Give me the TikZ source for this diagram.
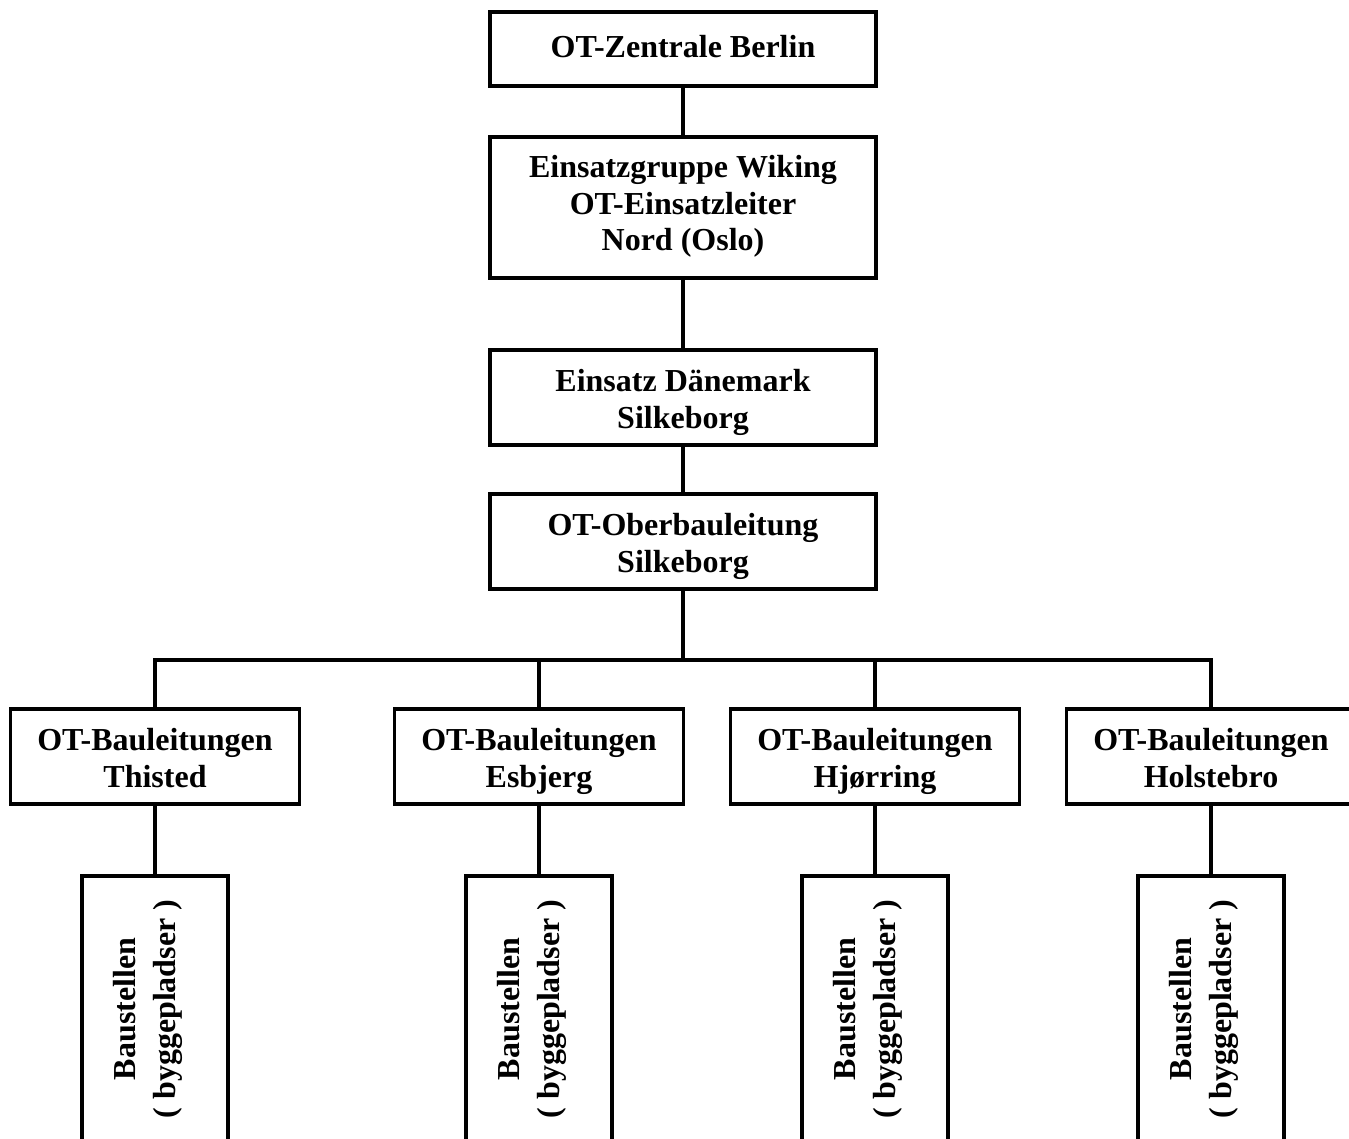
\documentclass[tikz,border=0pt]{standalone}
\usepackage{fontspec}
\setmainfont{Liberation Serif}
\begin{document}
\begin{tikzpicture}[x=1pt,y=-1pt,
  box/.style={draw,line width=3.2pt,rectangle,inner sep=0pt},
  txt/.style={inner sep=0pt,align=center,
    font=\fontsize{32}{36.5}\selectfont\bfseries},
  vtext/.style={rotate=90,inner sep=0pt,align=center,
    font=\fontsize{32}{40}\selectfont\bfseries},
  conn/.style={line width=3.2pt,line join=miter,line cap=rect}]
\useasboundingbox (0,0) rectangle (1349,1138);
\clip (0,0) rectangle (1349,1138);
\fill[white] (0,0) rectangle (1349,1138);

\node[box,minimum width=386pt,minimum height=74pt] (b1) at (683,49) {};
\node[txt] (b1t) at (683,47) {OT-Zentrale Berlin};
\node[box,minimum width=386pt,minimum height=141pt] (b2) at (683,207.5) {};
\node[txt] (b2t) at (683,206.5) {Einsatzgruppe Wiking\\OT-Einsatzleiter\\Nord (Oslo)};
\node[box,minimum width=386pt,minimum height=95pt] (b3) at (683,397.5) {};
\node[txt] (b3t) at (683,402.5) {Einsatz Dänemark\\Silkeborg};
\node[box,minimum width=386pt,minimum height=95pt] (b4) at (683,541.5) {};
\node[txt] (b4t) at (683,546.5) {OT-Oberbauleitung\\Silkeborg};

\foreach \n/\x/\t in {r1/155/Thisted,r2/539/Esbjerg,r3/875/Hjørring,r4/1211/Holstebro}{
  \node[box,minimum width=289pt,minimum height=95pt] (\n) at (\x,756.5) {};
  \node[txt] (\n t) at (\x,761.5) {OT-Bauleitungen\\\t\vphantom{g}};
}
\foreach \n/\x in {c1/155,c2/539,c3/875,c4/1211}{
  \node[box,minimum width=146pt,minimum height=330pt] (\n) at (\x,1041) {};
  \node[vtext] (\n t) at (\x-7.5,1009) {Baustellen\\( byggepladser )};
}

\coordinate (bus) at (683,660);
\draw[conn] (b1.south) -- (b2.north);
\draw[conn] (b2.south) -- (b3.north);
\draw[conn] (b3.south) -- (b4.north);
\draw[conn] (b4.south) -- (bus);
\draw[conn] (r1.north) -- (r1.north |- bus) -- (r4.north |- bus) -- (r4.north);
\draw[conn] (r2.north) -- (r2.north |- bus);
\draw[conn] (r3.north) -- (r3.north |- bus);
\foreach \n in {1,2,3,4}{
  \draw[conn] (r\n.south) -- (c\n.north);
}
\end{tikzpicture}
\end{document}
